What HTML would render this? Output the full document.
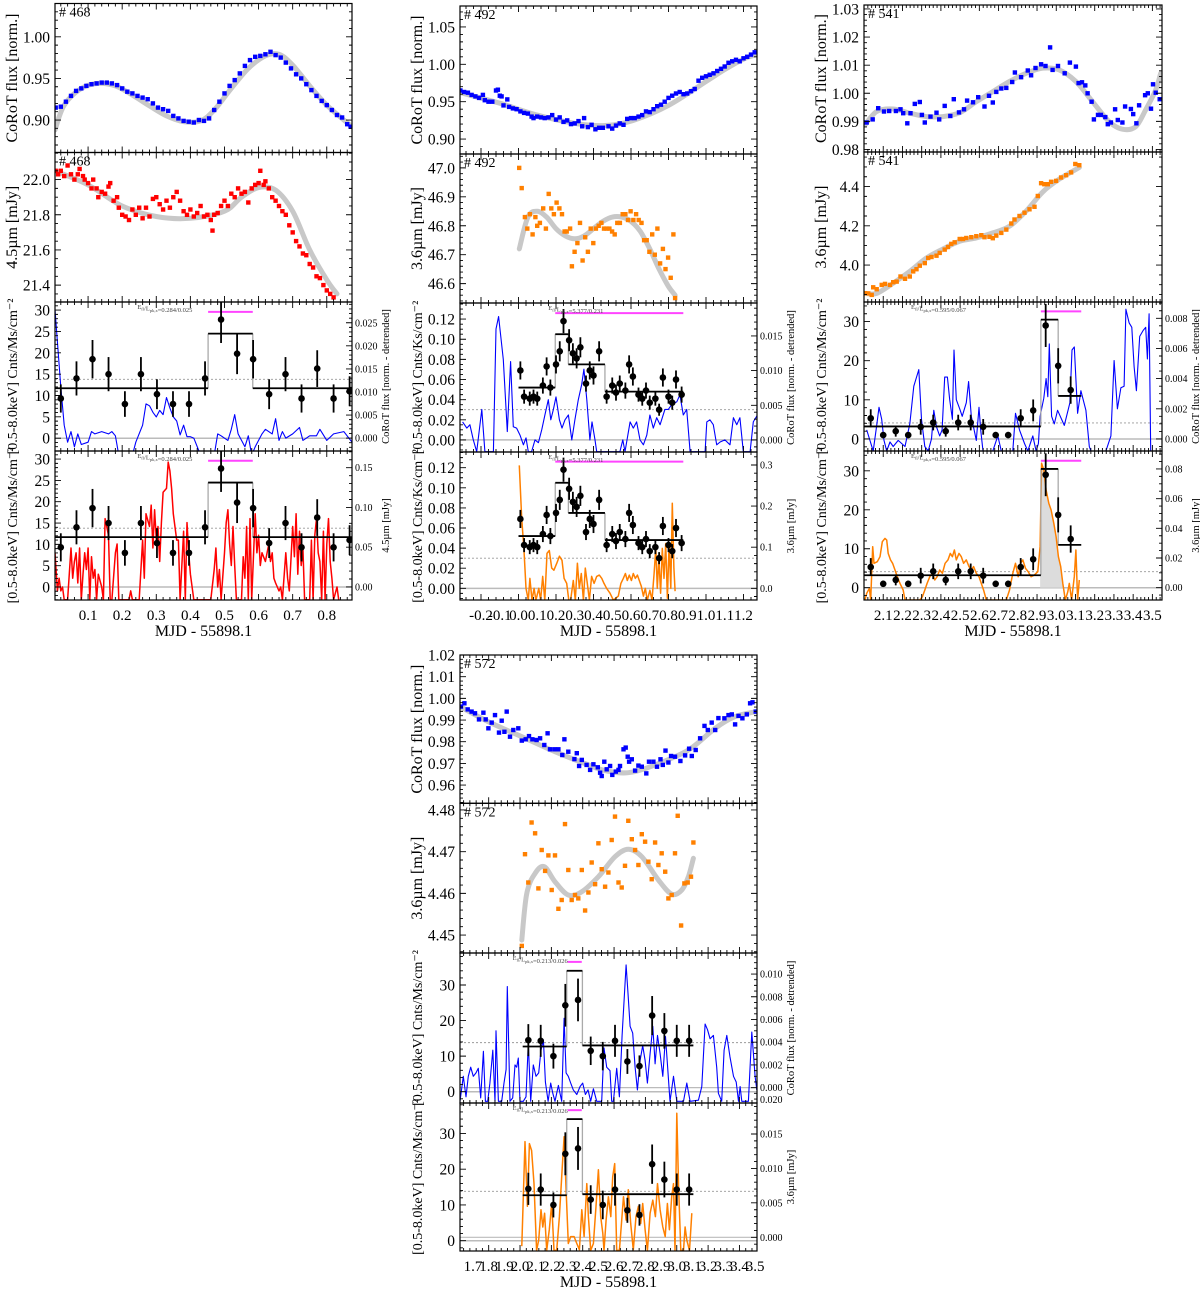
<!DOCTYPE html>
<html><head><meta charset="utf-8"><title>Light curves</title>
<style>
html,body{margin:0;padding:0;background:#fff;}
svg{display:block;font-family:"Liberation Serif","DejaVu Serif",serif;}
</style></head>
<body>
<svg id="fig" width="1200" height="1292" viewBox="0 0 1200 1292" xmlns="http://www.w3.org/2000/svg"></svg>
<script>
// ===== Group 1 (#468) =====
const g1CorotX=[0.005,0.02,0.035,0.05,0.065,0.08,0.095,0.11,0.125,0.14,0.155,0.17,0.185,0.2,0.215,0.23,0.245,0.26,0.275,0.29,0.305,0.32,0.335,0.35,0.365,0.38,0.395,0.41,0.425,0.44,0.455,0.47,0.485,0.5,0.515,0.53,0.545,0.56,0.575,0.59,0.605,0.62,0.635,0.65,0.665,0.68,0.695,0.71,0.725,0.74,0.755,0.77,0.785,0.8,0.815,0.83,0.845,0.86,0.87];
const g1CorotY=[.915,.916,.922,.929,.935,.938,.941,.943,.944,.945,.945,.944,.942,.938,.934,.932,.929,.927,.925,.920,.915,.913,.911,.905,.902,.899,.898,.897,.900,.899,.902,.912,.922,.932,.941,.948,.956,.965,.972,.976,.977,.979,.982,.978,.975,.969,.962,.955,.950,.943,.936,.929,.923,.918,.912,.906,.903,.895,.892];
const g1CorotFitX=[0.003,0.03,0.08,0.13,0.18,0.23,0.28,0.33,0.38,0.43,0.47,0.52,0.57,0.62,0.66,0.7,0.75,0.8,0.85,0.874];
const g1CorotFitY=[0.888,0.918,0.938,0.944,0.941,0.930,0.917,0.905,0.898,0.899,0.912,0.938,0.962,0.977,0.979,0.966,0.941,0.918,0.900,0.892];
const g1IrX=[.005,.012,.02,.03,.04,.05,.06,.07,.075,.085,.09,.1,.11,.115,.125,.13,.14,.15,.16,.165,.175,.185,.19,.2,.21,.22,.23,.24,.25,.26,.27,.28,.29,.3,.31,.32,.33,.34,.35,.36,.37,.38,.39,.4,.41,.42,.43,.44,.45,.46,.465,.47,.48,.49,.5,.51,.52,.53,.54,.55,.56,.57,.58,.59,.6,.605,.615,.62,.63,.64,.65,.66,.67,.68,.69,.7,.71,.72,.73,.74,.75,.76,.77,.78,.79,.8,.81,.82];
const g1IrY=[22.05,22.03,22.05,22.02,22.08,22.03,22.0,22.03,22.06,22.02,22.0,21.98,21.95,22.0,21.95,21.90,21.93,21.92,21.96,21.98,21.88,21.9,21.84,21.80,21.79,21.77,21.83,21.80,21.84,21.78,21.84,21.79,21.89,21.90,21.86,21.83,21.88,21.84,21.90,21.93,21.88,21.82,21.80,21.83,21.79,21.81,21.85,21.79,21.80,21.77,21.71,21.80,21.81,21.85,21.88,21.85,21.92,21.90,21.95,21.92,21.93,21.87,21.95,21.97,21.98,22.05,21.97,21.99,21.95,21.90,21.88,21.85,21.82,21.80,21.74,21.70,21.65,21.62,21.58,21.57,21.52,21.50,21.45,21.44,21.40,21.37,21.35,21.33];
const g1IrFitX=[0.003,0.1,0.2,0.3,0.4,0.5,0.55,0.6,0.65,0.7,0.75,0.8,0.83];
const g1IrFitY=[22.05,21.97,21.85,21.79,21.78,21.82,21.90,21.955,21.94,21.82,21.6,21.43,21.35];
const g1XrayX=[0.02,0.066,0.113,0.16,0.208,0.255,0.302,0.349,0.396,0.443,0.49,0.537,0.584,0.631,0.679,0.726,0.772,0.82,0.867];
const g1XrayY=[9.3,14,18.5,15,8,15,10.3,8,8,14,27.8,19.8,18.5,10.3,15,9.3,16.3,9.3,11];
const g1XrayErr=[3.3,4,4.5,4,3,4,3.5,3,3,4,5.5,4.8,4.5,3.5,4,3.3,4.3,3.3,3.5];
const g1BinStart=[0.003,0.452,0.583];
const g1BinEnd=[0.452,0.583,0.874];
const g1BinLevel=[11.7,24.5,11.7];
const g1DetX=[0.003,.02,.03,.04,.05,.06,.07,.08,.1,.11,.12,.14,.16,.17,.18,.19,.23,.24,.26,.27,.28,.29,.3,.31,.32,.33,.34,.35,.36,.37,.38,.39,.4,.41,.43,.47,.48,.49,.51,.52,.53,.54,.56,.57,.58,.59,.61,.62,.64,.65,.66,.67,.68,.7,.72,.73,.75,.77,.78,.8,.82,.85,.874];
const g1DetY=[0.0278,0.0111,0.0028,-0.0009,0.0014,-0.0019,0.0009,-0.0014,-0.0009,0.0014,0.0009,0.0014,0.0009,0.0014,0.0005,-0.0037,-0.0037,-0.0009,0.0028,0.0074,0.0070,0.0056,0.0046,0.0060,0.0051,0.0088,0.0065,0.0046,0.0037,0.0007,0.0028,0.0003,0.0003,0,-0.0037,-0.0037,0.0009,0.0005,-0.0005,0.0019,0.0051,0.0009,-0.0019,0.0005,-0.0037,-0.0019,0.0009,0.0019,0.0009,0.0042,-0.0005,0.0014,0,0.0009,0.0023,-0.0005,0.0005,0.0005,0.0019,-0.0005,0.0009,0.0014,-0.0009];
const g1ResX=[0.003,.01,.015,.02,.025,.03,.04,.05,.055,.06,.065,.07,.075,.08,.085,.09,.095,.1,.105,.11,.115,.12,.125,.13,.14,.145,.15,.16,.165,.17,.18,.185,.19,.2,.22,.225,.23,.25,.26,.265,.27,.28,.285,.29,.295,.3,.305,.31,.315,.32,.33,.335,.34,.345,.35,.36,.365,.37,.38,.385,.39,.395,.4,.41,.45,.46,.47,.475,.48,.485,.49,.5,.505,.51,.515,.52,.525,.53,.535,.55,.555,.56,.565,.57,.575,.58,.59,.595,.6,.605,.61,.62,.63,.635,.64,.645,.65,.66,.665,.67,.68,.685,.69,.7,.705,.71,.715,.72,.725,.73,.735,.75,.755,.76,.765,.77,.775,.78,.785,.79,.795,.8,.805,.81,.815,.82,.83,.835];
const g1ResY=[0.043,-0.005,0.011,-0.005,0,-0.016,-0.016,0.049,0.011,0.032,0.043,0.005,0.049,-0.016,0.016,0.043,0.022,0.049,-0.016,0.038,0.011,0.022,-0.016,0.016,0,-0.016,0.086,0.065,-0.016,-0.016,0.043,0.054,-0.016,-0.016,-0.016,-0.005,-0.016,-0.016,0.059,0.011,0.092,0.076,0.103,0.049,0.097,0.059,0.076,0.032,0.081,0.119,0.124,0.157,0.146,0.124,0.092,0.059,0.059,-0.016,0.070,-0.016,0.081,0.043,0.016,-0.016,-0.016,-0.016,0.022,0.049,0,0.022,-0.016,0.043,0.081,0.097,0.054,0.027,0.076,0.027,-0.016,-0.016,0.038,0.011,0.076,-0.016,0.086,-0.016,0.092,0.043,0.065,0.027,0.043,0.032,0.054,0.032,0.043,0.011,0.005,-0.005,0,-0.016,0.043,0.011,-0.005,0.076,0.038,0.092,0.016,0.070,0.027,0.049,-0.016,-0.016,0.059,-0.016,0.065,0.086,0.043,0.032,-0.016,0.070,-0.016,0.054,0.086,0.032,0.011,-0.016,0,-0.016];
// ===== Group 2 (#492) =====
const g2CorotX=[-0.31,-0.29,-0.27,-0.25,-0.23,-0.21,-0.19,-0.18,-0.16,-0.14,-0.12,-0.11,-0.10,-0.09,-0.08,-0.06,-0.05,-0.03,-0.01,0.01,0.03,0.05,0.07,0.08,0.1,0.12,0.14,0.16,0.18,0.2,0.22,0.24,0.26,0.28,0.3,0.32,0.34,0.35,0.37,0.39,0.41,0.43,0.45,0.48,0.5,0.52,0.54,0.56,0.58,0.6,0.62,0.64,0.66,0.68,0.7,0.72,0.74,0.76,0.78,0.8,0.82,0.84,0.86,0.88,0.9,0.92,0.94,0.96,0.98,1.0,1.02,1.04,1.06,1.08,1.1,1.12,1.14,1.16,1.18,1.2,1.22,1.24,1.26];
const g2CorotY=[0.965,0.963,0.962,0.959,0.957,0.955,0.959,0.952,0.950,0.950,0.965,0.966,0.958,0.957,0.945,0.953,0.943,0.941,0.940,0.937,0.935,0.934,0.930,0.928,0.930,0.929,0.928,0.929,0.932,0.926,0.929,0.923,0.925,0.920,0.921,0.924,0.917,0.928,0.916,0.919,0.913,0.915,0.915,0.917,0.914,0.918,0.921,0.919,0.927,0.928,0.928,0.930,0.932,0.937,0.936,0.940,0.944,0.946,0.950,0.955,0.958,0.961,0.963,0.960,0.961,0.964,0.967,0.978,0.982,0.984,0.986,0.988,0.991,0.994,0.997,1.002,1.004,1.006,1.004,1.008,1.010,1.013,1.016];
const g2CorotFitX=[-0.31,-0.1,0.1,0.3,0.45,0.6,0.8,1.0,1.1,1.2,1.27];
const g2CorotFitY=[0.962,0.948,0.932,0.921,0.918,0.924,0.945,0.977,0.993,1.007,1.013];
const g2IrX=[0.004,0.017,0.034,0.047,0.061,0.075,0.090,0.100,0.114,0.132,0.146,0.161,0.175,0.189,0.203,0.218,0.232,0.246,0.257,0.275,0.285,0.299,0.314,0.328,0.342,0.356,0.370,0.385,0.399,0.413,0.428,0.442,0.456,0.470,0.485,0.499,0.513,0.527,0.541,0.556,0.570,0.584,0.598,0.613,0.627,0.641,0.656,0.670,0.684,0.698,0.713,0.727,0.741,0.755,0.770,0.784,0.798,0.812,0.826,0.835];
const g2IrY=[47.00,46.93,46.83,46.79,46.84,46.77,46.83,46.80,46.81,46.86,46.79,46.91,46.86,46.84,46.88,46.86,46.84,46.78,46.78,46.79,46.66,46.71,46.74,46.81,46.68,46.76,46.71,46.79,46.74,46.79,46.80,46.81,46.79,46.79,46.79,46.78,46.77,46.81,46.81,46.84,46.84,46.82,46.85,46.82,46.84,46.82,46.81,46.75,46.75,46.71,46.77,46.70,46.79,46.67,46.72,46.65,46.69,46.62,46.77,46.55];
const g2IrFitX=[0.004,0.05,0.1,0.15,0.2,0.25,0.3,0.35,0.4,0.45,0.5,0.55,0.6,0.65,0.7,0.75,0.8,0.835];
const g2IrFitY=[46.72,46.83,46.85,46.83,46.79,46.765,46.755,46.765,46.79,46.815,46.83,46.83,46.815,46.78,46.72,46.65,46.59,46.56];
const g2XrayX=[0.01,0.03,0.06,0.08,0.10,0.13,0.15,0.17,0.20,0.22,0.24,0.27,0.29,0.31,0.33,0.36,0.38,0.40,0.43,0.47,0.50,0.52,0.54,0.57,0.59,0.61,0.64,0.66,0.68,0.70,0.73,0.75,0.77,0.80,0.82,0.84,0.87];
const g2XrayY=[0.069,0.043,0.041,0.043,0.041,0.054,0.073,0.052,0.075,0.088,0.118,0.099,0.086,0.081,0.092,0.056,0.069,0.064,0.088,0.043,0.054,0.047,0.056,0.049,0.075,0.063,0.045,0.041,0.049,0.037,0.041,0.030,0.062,0.043,0.037,0.060,0.045];
const g2XrayErr=[0.009,0.007,0.007,0.007,0.007,0.008,0.009,0.008,0.009,0.010,0.012,0.011,0.010,0.010,0.010,0.008,0.009,0.009,0.010,0.007,0.008,0.008,0.008,0.008,0.009,0.009,0.007,0.007,0.008,0.007,0.007,0.006,0.009,0.007,0.007,0.009,0.008];
const g2BinStart=[0.0,0.196,0.266,0.461];
const g2BinEnd=[0.196,0.266,0.461,0.879];
const g2BinLevel=[0.052,0.105,0.075,0.048];
const g2DetX=[-0.298,-0.276,-0.259,-0.241,-0.223,-0.196,-0.179,-0.134,-0.120,-0.106,-0.081,-0.060,-0.042,-0.028,-0.010,0.008,0.026,0.040,0.052,0.070,0.088,0.106,0.124,0.141,0.159,0.172,0.186,0.200,0.218,0.232,0.248,0.266,0.284,0.301,0.319,0.337,0.349,0.364,0.381,0.392,0.408,0.417,0.541,0.556,0.568,0.595,0.612,0.630,0.648,0.666,0.684,0.701,0.719,0.737,0.755,0.781,0.799,0.817,0.844,0.861,0.879,0.897,0.915,0.995,1.004,1.021,1.039,1.057,1.075,1.101,1.128,1.146,1.164,1.181,1.199,1.235,1.252,1.274];
const g2DetY=[0.0026,0.0017,0.0022,0,-0.0017,0.0044,-0.0017,-0.0017,0.016,0.0178,0.0116,0.0012,0.0113,0.0019,0.0017,0.0007,-0.0007,0.0003,-0.0017,-0.0017,0,-0.0004,0.0015,0.0036,0.0058,0.0029,0.0044,0.0062,0.0029,0.0017,0.0029,0.0036,0,0.0029,0.0058,0.008,0.0102,0.0058,0,0.0026,0,-0.0017,-0.0017,0,-0.0017,0.0026,0.0017,0.0026,0,-0.0007,0.0007,0.0036,0.0017,0.0032,0.0022,0.0044,0.0044,0.0051,0.0055,0.0065,0.0036,0.0044,-0.0017,-0.0017,0.0026,0.0029,0.0022,-0.0007,-0.0003,0,-0.0007,0.0032,0.0022,0.0032,-0.0017,-0.0017,0.0026,0.0036];
const g2ResX=[0.004,0.017,0.029,0.040,0.052,0.061,0.072,0.083,0.093,0.108,0.118,0.129,0.140,0.152,0.164,0.177,0.189,0.204,0.218,0.232,0.243,0.257,0.268,0.278,0.292,0.303,0.314,0.324,0.335,0.346,0.356,0.367,0.378,0.390,0.403,0.417,0.431,0.444,0.456,0.470,0.488,0.506,0.532,0.546,0.559,0.570,0.580,0.591,0.602,0.612,0.623,0.634,0.644,0.655,0.666,0.676,0.687,0.701,0.712,0.723,0.732,0.740,0.749,0.758,0.767,0.776,0.785,0.794,0.803,0.812,0.820,0.829,0.835];
const g2ResY=[0.299,0.17,0.097,0,-0.029,0.024,-0.029,0,-0.029,0,-0.029,0.029,-0.029,0.085,0.092,0.049,0.044,0.061,0.078,0.068,0.024,0.012,-0.029,-0.029,0.019,-0.029,0.061,0,0.036,-0.029,0.049,0.012,-0.029,0.029,0.012,0.029,0.032,0.024,0.012,0,-0.012,-0.029,-0.019,0.012,0.024,0.036,0.019,0.032,0.019,0.036,0.024,0.032,0.019,0.005,-0.019,0,-0.029,-0.005,-0.029,0.036,0.097,0,0.073,-0.012,0.097,0.024,0.109,-0.024,0.109,0,0.207,0.049,-0.007];
// ===== Group 3 (#541) =====
const g3CorotX=[2.014,2.045,2.074,2.104,2.131,2.166,2.190,2.204,2.225,2.242,2.264,2.290,2.301,2.316,2.346,2.377,2.391,2.420,2.449,2.467,2.494,2.520,2.536,2.567,2.594,2.627,2.650,2.670,2.688,2.714,2.740,2.771,2.785,2.817,2.852,2.869,2.892,2.921,2.944,2.968,2.981,3.009,3.044,3.071,3.102,3.116,3.134,3.151,3.163,3.184,3.196,3.217,3.232,3.255,3.268,3.284,3.306,3.320,3.344,3.358,3.388,3.400,3.417,3.431,3.462,3.476,3.493,3.503,3.517,3.538];
const g3CorotY=[0.9896,0.9907,0.9947,0.9935,0.9937,0.9937,0.9943,0.9929,0.9893,0.9929,0.9962,0.9969,0.9923,0.9896,0.9917,0.9931,0.9907,0.9955,0.9919,0.9979,0.9932,0.9943,0.9974,0.9968,0.9986,0.9953,0.9991,0.9967,1.0005,1.0017,1.0019,1.0040,1.0074,1.0057,1.0081,1.0064,1.0090,1.0103,1.0097,1.0163,1.0083,1.0097,1.0071,1.0109,1.0095,1.0036,1.0039,1.0028,1.0000,0.9970,0.9907,0.9923,0.9923,0.9915,0.9890,0.9896,0.9943,0.9905,0.9896,0.9953,0.9944,0.9926,0.9893,0.9957,0.9993,1.0000,0.9945,1.0032,1.0002,0.9979];
const g3CorotFitX=[2.005,2.066,2.152,2.238,2.325,2.411,2.498,2.584,2.670,2.757,2.843,2.930,3.016,3.102,3.189,3.275,3.344,3.413,3.465,3.517,3.543];
const g3CorotFitY=[0.9887,0.9935,0.9944,0.9929,0.9917,0.9917,0.9931,0.9970,1.0006,1.0042,1.0071,1.0089,1.0083,1.0042,0.9970,0.9899,0.9872,0.9881,0.9941,1.0012,1.0071];
const g3IrX=[2.005,2.022,2.040,2.048,2.066,2.092,2.109,2.135,2.152,2.170,2.190,2.213,2.238,2.256,2.273,2.290,2.316,2.334,2.351,2.377,2.394,2.420,2.437,2.454,2.472,2.498,2.515,2.532,2.558,2.584,2.610,2.627,2.653,2.670,2.688,2.714,2.740,2.766,2.783,2.809,2.835,2.861,2.887,2.904,2.921,2.938,2.956,2.973,2.999,3.025,3.051,3.077,3.099,3.120];
const g3IrY=[3.857,3.856,3.848,3.887,3.877,3.899,3.904,3.899,3.913,3.916,3.942,3.930,3.942,3.968,3.979,3.997,4.010,4.036,4.041,4.048,4.062,4.079,4.092,4.108,4.116,4.133,4.133,4.138,4.142,4.147,4.152,4.142,4.144,4.137,4.150,4.164,4.181,4.212,4.232,4.250,4.267,4.284,4.297,4.352,4.417,4.412,4.412,4.424,4.429,4.446,4.458,4.472,4.515,4.509];
const g3IrFitX=[2.005,2.066,2.152,2.238,2.325,2.411,2.498,2.584,2.670,2.757,2.843,2.930,3.016,3.120];
const g3IrFitY=[3.856,3.856,3.908,3.968,4.036,4.082,4.121,4.138,4.164,4.198,4.275,4.373,4.438,4.497];
const g3XrayX=[2.035,2.1,2.165,2.23,2.295,2.36,2.425,2.49,2.555,2.62,2.685,2.75,2.815,2.88,2.945,3.01,3.075];
const g3XrayY=[5.3,1,2,1,3.1,4.2,2,4.2,4.2,3.1,1,1,5.3,7.3,29,18.7,12.5];
const g3XrayErr=[2.3,0.8,1.4,0.8,2,2,1.4,2,2,2,0.8,0.8,2.3,2.8,5.5,4.5,3.5];
const g3BinStart=[2.0,2.92,3.01];
const g3BinEnd=[2.92,3.01,3.13];
const g3BinLevel=[3.2,30.5,11];
const g3DetX=[2.014,2.048,2.066,2.078,2.092,2.104,2.118,2.135,2.152,2.178,2.213,2.238,2.259,2.285,2.299,2.316,2.334,2.351,2.363,2.377,2.394,2.406,2.420,2.434,2.446,2.460,2.468,2.480,2.498,2.511,2.532,2.544,2.558,2.584,2.598,2.607,2.619,2.670,2.696,2.714,2.774,2.788,2.809,2.835,2.852,2.878,2.895,2.907,2.916,2.935,2.947,2.956,2.964,2.976,2.990,3.007,3.042,3.071,3.082,3.094,3.111,3.128,3.140,3.154,3.172,3.180,3.258,3.284,3.301,3.318,3.336,3.353,3.362,3.379,3.393,3.405,3.417,3.434,3.452,3.465,3.474,3.483,3.491];
const g3DetY=[0.0006,-0.0008,0.0009,0.0021,0.0013,-0.0001,-0.0008,-0.0002,-0.0005,-0.0001,-0.0005,0.0010,0.0035,0.0046,0.0013,-0.0005,-0.0008,0.0000,0.0019,0.0008,0.0002,0.0006,0.0041,0.0041,0.0026,0.0013,0.0059,0.0026,0.0020,0.0015,0.0024,0.0038,0.0015,-0.0001,0.0021,0.0006,-0.0008,-0.0008,0.0002,-0.0008,-0.0008,0.0017,0.0006,-0.0003,-0.0008,0.0002,-0.0008,-0.0003,0.0015,0.0027,0.0040,0.0028,0.0063,0.0015,0.0010,0.0019,0.0009,0.0024,0.0059,0.0061,0.0017,0.0032,0.0026,0.0019,-0.0005,-0.0008,-0.0008,0.0002,0.0052,0.0020,0.0034,0.0035,0.0086,0.0077,0.0074,0.0048,0.0032,0.0068,0.0072,0.0074,0.0053,0.0083,-0.0008];
const g3ResX=[2.005,2.014,2.028,2.035,2.045,2.052,2.069,2.083,2.095,2.109,2.118,2.126,2.138,2.149,2.161,2.173,2.187,2.204,2.213,2.290,2.304,2.316,2.328,2.342,2.356,2.368,2.380,2.394,2.408,2.422,2.437,2.449,2.460,2.470,2.480,2.494,2.506,2.518,2.532,2.546,2.558,2.570,2.584,2.598,2.610,2.622,2.636,2.740,2.757,2.774,2.788,2.802,2.814,2.826,2.840,2.854,2.869,2.886,2.904,2.916,2.924,2.935,2.947,2.961,2.973,2.987,2.999,3.011,3.023,3.034,3.047,3.060,3.068,3.080,3.094,3.102,3.111,3.120];
const g3ResY=[-0.0083,-0.0038,-0.0004,-0.0083,0.0276,0.0164,0.0175,0.0209,0.0310,0.0332,0.0321,0.0231,0.0187,0.0164,0.0119,0.0074,0.0029,-0.0016,-0.0083,-0.0083,-0.0061,-0.0016,0.0029,0.0074,0.0097,0.0052,0.0074,0.0119,0.0097,0.0164,0.0187,0.0231,0.0209,0.0254,0.0187,0.0231,0.0209,0.0164,0.0187,0.0142,0.0119,0.0142,0.0097,0.0074,0.0029,-0.0016,-0.0083,-0.0083,-0.0016,0.0097,0.0164,0.0074,0.0164,0.0187,0.0130,0.0108,0.0074,0.0085,0.0108,0.0276,0.0838,0.0793,0.0658,0.0569,0.0524,0.0434,0.0344,0.0209,0.0142,0.0029,-0.0083,-0.0027,0.0029,-0.0083,0.0074,0.0254,-0.0083,0.0052];
// ===== Group 4 (#572) =====
const g4CorotX=[1.623,1.645,1.666,1.691,1.713,1.738,1.766,1.781,1.798,1.819,1.840,1.866,1.883,1.900,1.915,1.936,1.957,1.989,2.011,2.036,2.057,2.079,2.106,2.128,2.155,2.176,2.191,2.219,2.245,2.270,2.283,2.308,2.347,2.362,2.377,2.394,2.425,2.447,2.468,2.496,2.511,2.521,2.538,2.553,2.575,2.589,2.611,2.628,2.638,2.660,2.674,2.687,2.696,2.713,2.734,2.755,2.777,2.806,2.823,2.851,2.874,2.896,2.911,2.928,2.947,2.964,2.989,3.023,3.053,3.079,3.096,3.121,3.149,3.177,3.198,3.223,3.245,3.266,3.304,3.330,3.351,3.372,3.394,3.419,3.447,3.468,3.483,3.504];
const g4CorotY=[0.9962,0.9977,0.9949,0.9939,0.9931,0.9903,0.9934,0.9903,0.9862,0.9888,0.9923,0.9842,0.9897,0.9846,0.9939,0.9823,0.9854,0.9862,0.9805,0.9811,0.9826,0.9811,0.9808,0.9816,0.9785,0.9839,0.9765,0.9765,0.9765,0.9739,0.9811,0.9754,0.9720,0.9747,0.9688,0.9716,0.9693,0.9670,0.9696,0.9682,0.9657,0.9642,0.9708,0.9673,0.9688,0.9647,0.9662,0.9670,0.9688,0.9765,0.9773,0.9731,0.9708,0.9719,0.9667,0.9690,0.9685,0.9654,0.9708,0.9708,0.9685,0.9719,0.9693,0.9759,0.9704,0.9734,0.9731,0.9711,0.9737,0.9768,0.9734,0.9762,0.9816,0.9873,0.9854,0.9888,0.9854,0.9909,0.9908,0.9923,0.9926,0.9880,0.9919,0.9908,0.9926,0.9977,0.9982,0.9939];
const g4CorotFitX=[1.617,1.798,2.011,2.223,2.436,2.543,2.691,2.862,3.074,3.245,3.372,3.511];
const g4CorotFitY=[0.9962,0.9892,0.9823,0.9754,0.9693,0.9667,0.9657,0.9693,0.9762,0.9862,0.9916,0.9939];
const g4IrX=[2.011,2.032,2.053,2.074,2.096,2.117,2.138,2.160,2.181,2.202,2.223,2.245,2.266,2.287,2.308,2.330,2.351,2.372,2.394,2.415,2.436,2.457,2.479,2.500,2.521,2.543,2.564,2.585,2.606,2.628,2.649,2.670,2.691,2.713,2.734,2.755,2.777,2.798,2.819,2.840,2.862,2.883,2.904,2.926,2.947,2.968,2.989,3.006,3.028,3.049,3.070,3.091,3.106];
const g4IrY=[4.4474,4.4694,4.4626,4.4770,4.4744,4.4612,4.4704,4.4654,4.4691,4.4608,4.4691,4.4563,4.4584,4.4766,4.4656,4.4584,4.4596,4.4588,4.4656,4.4559,4.4602,4.4674,4.4622,4.4720,4.4658,4.4616,4.4650,4.4728,4.4784,4.4626,4.4614,4.4666,4.4774,4.4730,4.4704,4.4668,4.4742,4.4724,4.4676,4.4634,4.4722,4.4668,4.4696,4.4652,4.4588,4.4596,4.4696,4.4786,4.4523,4.4624,4.4626,4.4640,4.4722];
const g4IrFitX=[2.011,2.043,2.096,2.155,2.223,2.308,2.394,2.5,2.606,2.691,2.777,2.883,2.968,3.032,3.074,3.106];
const g4IrFitY=[4.4488,4.46,4.4648,4.4664,4.4628,4.4596,4.4604,4.464,4.4688,4.4706,4.4688,4.4632,4.4598,4.4608,4.464,4.4684];
const g4XrayX=[2.053,2.132,2.213,2.289,2.370,2.451,2.528,2.606,2.685,2.762,2.843,2.921,3.0,3.079];
const g4XrayY=[14.5,14.3,10,24.3,25.8,11.5,10,14.3,8.5,7.2,21.4,17.1,14.3,14.3];
const g4XrayErr=[4.5,4.5,3.5,6,6,4,4,4.5,3.5,3,5.5,5,4.5,4.5];
const g4BinStart=[2.017,2.298,2.398];
const g4BinEnd=[2.298,2.398,3.106];
const g4BinLevel=[12.7,34,13];
const g4DetX=[1.617,1.638,1.655,1.670,1.685,1.702,1.719,1.734,1.749,1.766,1.779,1.794,1.808,1.826,1.840,1.847,1.862,1.883,1.898,1.911,1.919,1.936,1.953,1.968,1.979,1.989,2.000,2.021,2.038,2.053,2.068,2.085,2.102,2.119,2.134,2.149,2.162,2.179,2.196,2.209,2.223,2.245,2.255,2.266,2.281,2.294,2.308,2.323,2.340,2.362,2.383,2.400,2.417,2.434,2.451,2.468,2.489,2.521,2.536,2.553,2.574,2.585,2.596,2.617,2.634,2.651,2.664,2.677,2.689,2.702,2.719,2.734,2.749,2.766,2.783,2.798,2.813,2.830,2.847,2.862,2.877,2.894,2.911,2.928,2.940,2.957,2.979,3.000,3.043,3.064,3.085,3.138,3.160,3.181,3.196,3.213,3.234,3.255,3.266,3.287,3.302,3.319,3.340,3.362,3.379,3.394,3.404,3.415,3.457,3.479,3.500,3.511];
const g4DetY=[-0.0012,0.0010,-0.0008,0.0010,0.0018,0.0010,0.0013,0.0017,-0.0009,0.0032,-0.0012,-0.0012,0.0004,0.0033,-0.0012,0.0050,-0.0012,-0.0012,0.0004,0.0016,0.0089,-0.0012,-0.0009,0.0020,0.0018,0.0026,-0.0012,-0.0012,-0.0008,0.0039,-0.0012,0.0020,0.0010,0.0013,0.0033,0.0042,0.0005,-0.0012,0.0004,-0.0005,-0.0012,0.0002,-0.0005,-0.0012,0.0061,0.0013,0.0010,0.0004,-0.0002,-0.0006,0.0001,0.0004,-0.0006,-0.0002,-0.0012,-0.0001,-0.0012,-0.0012,0.0035,0.0018,0.0015,-0.0012,-0.0012,0.0017,-0.0008,0.0046,0.0077,0.0108,0.0083,0.0054,0.0048,0.0018,-0.0002,0.0024,0.0037,0.0024,0.0004,0.0030,0.0054,0.0021,0.0046,0.0030,0.0010,0.0045,0.0021,-0.0012,0.0010,-0.0012,-0.0012,0.0004,-0.0012,-0.0011,0.0001,0.0056,0.0051,0.0043,0.0046,0.0018,-0.0005,-0.0012,0.0033,0.0046,0.0027,0.0010,0.0005,-0.0012,0.0001,-0.0012,-0.0012,0.0049,0.0010,-0.0002];
const g4ResX=[2.011,2.032,2.047,2.060,2.074,2.089,2.106,2.119,2.134,2.145,2.157,2.170,2.187,2.202,2.217,2.234,2.251,2.266,2.281,2.294,2.308,2.323,2.345,2.362,2.379,2.394,2.409,2.426,2.436,2.451,2.468,2.485,2.500,2.515,2.528,2.536,2.549,2.564,2.579,2.591,2.604,2.617,2.634,2.660,2.677,2.691,2.706,2.723,2.740,2.755,2.770,2.783,2.798,2.813,2.830,2.847,2.864,2.877,2.894,2.911,2.926,2.940,2.953,2.968,2.979,2.989,3.000,3.011,3.026,3.043,3.053,3.064,3.081,3.096];
const g4ResY=[-0.0013,0.0139,0.0045,0.0136,0.0126,0.0078,-0.0019,-0.0004,0.0040,0.0015,0.0035,-0.0019,0.0011,0.0049,-0.0019,-0.0019,0.0030,0.0088,0.0146,0.0069,-0.0009,0.0001,0.0001,-0.0009,-0.0018,0.0040,0.0001,0.0078,0.0030,-0.0019,-0.0009,0.0045,0.0098,0.0030,0.0006,-0.0019,0.0025,0.0059,0.0030,0.0088,0.0107,-0.0019,-0.0019,0.0059,0.0025,0.0069,0.0020,-0.0018,0.0030,0.0045,0.0020,0.0049,0.0011,-0.0019,0.0035,0.0054,0.0030,0.0078,0.0040,0.0015,0.0001,0.0049,0.0011,0.0059,0.0078,-0.0019,0.0180,0.0078,-0.0019,-0.0019,0.0015,-0.0004,-0.0019,0.0035];
// tick label arrays
const g1XLabels=[0.1,0.2,0.3,0.4,0.5,0.6,0.7,0.8];
const g2XLabels=[-0.2,-0.1,0.0,0.1,0.2,0.3,0.4,0.5,0.6,0.7,0.8,0.9,1.0,1.1,1.2];
const g3XLabels=[2.1,2.2,2.3,2.4,2.5,2.6,2.7,2.8,2.9,3.0,3.1,3.2,3.3,3.4,3.5];
const g4XLabels=[1.7,1.8,1.9,2.0,2.1,2.2,2.3,2.4,2.5,2.6,2.7,2.8,2.9,3.0,3.1,3.2,3.3,3.4,3.5];

const NS='http://www.w3.org/2000/svg';
const svg=document.getElementById('fig');
function mk(parent,tag,attrs,name){
  const e=document.createElementNS(NS,tag);
  for(const k in attrs) e.setAttribute(k,attrs[k]);
  
  
  parent.appendChild(e);return e;
}
function txt(parent,x,y,s,size,name,extra){
  const t=mk(parent,'text',Object.assign({x:x,y:y,'font-size':size,fill:'#000'},extra||{}),name);
  t.textContent=s;return t;
}
let clipId=0;
function smoothPath(pts){
  if(pts.length<2)return '';
  let d='M'+pts[0][0].toFixed(1)+','+pts[0][1].toFixed(1);
  for(let i=0;i<pts.length-1;i++){
    const p0=pts[Math.max(0,i-1)],p1=pts[i],p2=pts[i+1],p3=pts[Math.min(pts.length-1,i+2)];
    const c1=[p1[0]+(p2[0]-p0[0])/6,p1[1]+(p2[1]-p0[1])/6];
    const c2=[p2[0]-(p3[0]-p1[0])/6,p2[1]-(p3[1]-p1[1])/6];
    d+='C'+c1[0].toFixed(1)+','+c1[1].toFixed(1)+' '+c2[0].toFixed(1)+','+c2[1].toFixed(1)+' '+p2[0].toFixed(1)+','+p2[1].toFixed(1);
  }
  return d;
}
function fmt(v,d){return v.toFixed(d);}

function makePanel(o){
  const g=mk(svg,'g',{},o.name);
  const sx=v=>o.x0+(v-o.xd[0])/(o.xd[1]-o.xd[0])*(o.x1-o.x0);
  const sy=v=>o.bottom-(v-o.yd[0])/(o.yd[1]-o.yd[0])*(o.bottom-o.top);
  const sr=o.rd?(v=>o.bottom-(v-o.rd[0])/(o.rd[1]-o.rd[0])*(o.bottom-o.top)):null;
  const id='c'+(clipId++);
  const cp=mk(g,'clipPath',{id:id},'panel-clip');
  mk(cp,'rect',{x:o.x0,y:o.top,width:o.x1-o.x0,height:o.bottom-o.top},'clip-rect');
  const plot=mk(g,'g',{'clip-path':'url(#'+id+')'},'plot-area');
  return {g,plot,sx,sy,sr,o};
}
function frame(P,xMajor,xMinor,yTicks,yMinor,yDig,rTicks,rMinor,rDig){
  const o=P.o,g=P.g;
  mk(g,'rect',{x:o.x0,y:o.top,width:o.x1-o.x0,height:o.bottom-o.top,fill:'none',stroke:'#000','stroke-width':1.2},'panel-frame');
  let d='';
  for(let v=Math.ceil(o.xd[0]/xMinor-1e-6)*xMinor;v<=o.xd[1]+1e-9;v+=xMinor){
    const X=P.sx(v);const maj=Math.abs(v/xMajor-Math.round(v/xMajor))<1e-3;const L=maj?6:3;
    d+='M'+X+','+o.bottom+'v-'+L+'M'+X+','+o.top+'v'+L;
  }
  for(let v=Math.ceil(o.yd[0]/yMinor-1e-6)*yMinor;v<=o.yd[1]+1e-9;v+=yMinor){
    const Y=P.sy(v);const maj=yTicks.some(t=>Math.abs(t-v)<yMinor*0.01);const L=maj?6:3;
    d+='M'+o.x0+','+Y+'h'+L;
    if(!rTicks) d+='M'+o.x1+','+Y+'h-'+L;
  }
  if(rTicks){
    for(let v=Math.ceil(o.rd[0]/rMinor-1e-6)*rMinor;v<=o.rd[1]+1e-9;v+=rMinor){
      const Y=P.sr(v);const maj=rTicks.some(t=>Math.abs(t-v)<rMinor*0.01);const L=maj?6:3;
      d+='M'+o.x1+','+Y+'h-'+L;
    }
  }
  mk(g,'path',{d:d,stroke:'#000','stroke-width':0.9,fill:'none'},'axis-ticks');
  yTicks.forEach(t=>{txt(g,o.x0-5,P.sy(t)+5.5,fmt(t,yDig),15.5,'y-tick-label',{'text-anchor':'end'});});
  if(rTicks) rTicks.forEach(t=>{txt(g,o.x1+3,P.sr(t)+3.5,fmt(t,rDig),10,'right-tick-label');});
}
function scatter(P,xs,ys,color,name){
  const n=Math.min(xs.length,ys.length);
  for(let i=0;i<n;i++){
    mk(P.plot,'rect',{x:(P.sx(xs[i])-2.2).toFixed(1),y:(P.sy(ys[i])-2.2).toFixed(1),width:4.4,height:4.4,fill:color},name);
  }
}
function fit(P,xs,ys,name){
  const pts=xs.map((x,i)=>[P.sx(x),P.sy(ys[i])]);
  mk(P.plot,'path',{d:smoothPath(pts),stroke:'#c8c8c8','stroke-width':5,fill:'none','stroke-linecap':'round'},name);
}
function overlay(P,xs,ys,color,w,name){
  const n=Math.min(xs.length,ys.length);let d='';
  for(let i=0;i<n;i++){d+=(i?'L':'M')+P.sx(xs[i]).toFixed(1)+','+P.sr(ys[i]).toFixed(1);}
  mk(P.plot,'path',{d:d,stroke:color,'stroke-width':w,fill:'none','stroke-linejoin':'round'},name);
}
function fillUnder(P,xs,ys,a,b,name){
  let pts=[];for(let i=0;i<xs.length;i++){if(xs[i]>=a&&xs[i]<=b)pts.push([P.sx(xs[i]),P.sr(ys[i])]);}
  if(!pts.length)return;
  let d='M'+pts[0][0]+','+P.sr(0);pts.forEach(p=>d+='L'+p[0]+','+p[1]);d+='L'+pts[pts.length-1][0]+','+P.sr(0)+'Z';
  mk(P.plot,'path',{d:d,fill:'#dcdcdc',stroke:'none'},name);
}
function flareLabel(parent,x,y,val){
  const t=mk(parent,'text',{x:x,y:y,'font-size':6.5,fill:'#444','text-anchor':'middle'},'flare-energy-label');
  const parts=[['E',0],['fl',1],['/L',0],['pk,x',1],['='+val,0]];
  parts.forEach(p=>{const s=document.createElementNS(NS,'tspan');s.textContent=p[0];if(p[1]){s.setAttribute('font-size','4.5');s.setAttribute('dy','1.5');}else{s.setAttribute('dy','0');}
    t.appendChild(s);
    if(p[1]){const r=document.createElementNS(NS,'tspan');r.setAttribute('dy','-1.5');r.textContent='';t.appendChild(r);}
  });
}
function xray(P,cfg){
  const o=P.o;
  mk(P.plot,'line',{x1:o.x0,x2:o.x1,y1:P.sy(0),y2:P.sy(0),stroke:'#bbb','stroke-width':1.5},'zero-line');
  if(cfg.zeroRight) mk(P.plot,'line',{x1:o.x0,x2:o.x1,y1:P.sr(0),y2:P.sr(0),stroke:'#bbb','stroke-width':1.2},'zero-line-right');
  mk(P.plot,'line',{x1:o.x0,x2:o.x1,y1:P.sy(cfg.dot),y2:P.sy(cfg.dot),stroke:'#999','stroke-width':0.9,'stroke-dasharray':'2,2'},'mean-level-line');
  if(cfg.fill) fillUnder(P,cfg.ox,cfg.oy,cfg.fill[0],cfg.fill[1],'flare-fill');
  overlay(P,cfg.ox,cfg.oy,cfg.ocolor,cfg.ow,cfg.oname);
  const bs=cfg.bs,be=cfg.be,bl=cfg.bl;
  for(let i=1;i<bs.length;i++){
    mk(P.plot,'line',{x1:P.sx(bs[i]),x2:P.sx(bs[i]),y1:P.sy(bl[i-1]),y2:P.sy(bl[i]),stroke:'#aaa','stroke-width':1.3},'bin-edge');
  }
  for(let i=0;i<bs.length;i++){
    mk(P.plot,'line',{x1:P.sx(bs[i]),x2:P.sx(be[i]),y1:P.sy(bl[i]),y2:P.sy(bl[i]),stroke:'#000','stroke-width':1.8},'bin-level');
  }
  mk(P.plot,'line',{x1:P.sx(cfg.mag[0]),x2:P.sx(cfg.mag[1]),y1:P.sy(cfg.mag[2]),y2:P.sy(cfg.mag[2]),stroke:'#ff44ff','stroke-width':2},'flare-marker');
  for(let i=0;i<cfg.px.length;i++){
    const X=P.sx(cfg.px[i]);
    mk(P.plot,'line',{x1:X,x2:X,y1:P.sy(cfg.py[i]-cfg.pe[i]),y2:P.sy(cfg.py[i]+cfg.pe[i]),stroke:'#000','stroke-width':1.8},'xray-error-bar');
    mk(P.plot,'circle',{cx:X,cy:P.sy(cfg.py[i]),r:3.3,fill:'#000'},'xray-point');
  }
  flareLabel(P.g,o.x0+(o.x1-o.x0)*cfg.tpos,o.top+7,cfg.tval);
}
function vtext(x,y,s,size,name,rot){
  txt(svg,0,0,s,size,name,{'text-anchor':'middle',transform:'translate('+x+','+y+') rotate('+(rot||-90)+')'});
}
function xLabels(P,labels,dig,ybase,size){
  labels.forEach(v=>txt(svg,P.sx(v),ybase,fmt(v,dig),size,'x-tick-label',{'text-anchor':'middle'}));
}

function group(G){
  const T=G.tops;
  const p1=makePanel({name:'corot-panel-'+G.id,x0:G.x0,x1:G.x1,top:T[0],bottom:T[1],xd:G.xd,yd:G.y1});
  fit(p1,G.c.fx,G.c.fy,'corot-fit-curve');scatter(p1,G.c.x,G.c.y,'#0000ff','corot-flux-point');
  frame(p1,G.xMaj,G.xMin,G.y1t,G.y1m,G.y1d);
  txt(p1.g,G.x0+4,T[0]+13,'# '+G.id,14,'panel-id-label');
  const p2=makePanel({name:'ir-panel-'+G.id,x0:G.x0,x1:G.x1,top:T[1],bottom:T[2],xd:G.xd,yd:G.y2});
  fit(p2,G.i.fx,G.i.fy,'ir-fit-curve');scatter(p2,G.i.x,G.i.y,G.irColor,'ir-flux-point');
  frame(p2,G.xMaj,G.xMin,G.y2t,G.y2m,G.y2d);
  txt(p2.g,G.x0+4,T[1]+13,'# '+G.id,14,'panel-id-label');
  const p3=makePanel({name:'xray-corot-panel-'+G.id,x0:G.x0,x1:G.x1,top:T[2],bottom:T[3],xd:G.xd,yd:G.y3,rd:G.r3});
  xray(p3,Object.assign({},G.xr,{ox:G.dx,oy:G.dy,ocolor:'#0000ff',ow:1.1,oname:'corot-detrended-line',zeroRight:G.zr}));
  frame(p3,G.xMaj,G.xMin,G.yxt,G.yxm,G.yxd,G.r3t,G.r3m,G.r3d);
  const p4=makePanel({name:'xray-ir-panel-'+G.id,x0:G.x0,x1:G.x1,top:T[3],bottom:T[4],xd:G.xd,yd:G.y4,rd:G.r4});
  xray(p4,Object.assign({},G.xr,{ox:G.rx,oy:G.ry,ocolor:G.irColor,ow:1.5,oname:'ir-residual-line',fill:G.fillRange,zeroRight:G.zr}));
  frame(p4,G.xMaj,G.xMin,G.yxt,G.yxm,G.yxd,G.r4t,G.r4m,G.r4d);
  const lx=G.x0-38;
  vtext(lx,(T[0]+T[1])/2,'CoRoT flux [norm.]',16,'y-axis-title-corot');
  vtext(lx,(T[1]+T[2])/2,G.irTitle,16,'y-axis-title-ir');
  vtext(lx,(T[2]+T[3])/2,G.xTitle,14,'y-axis-title-xray');
  vtext(lx,(T[3]+T[4])/2,G.xTitle,14,'y-axis-title-xray');
  vtext(G.x1+37,(T[2]+T[3])/2,'CoRoT flux [norm. - detrended]',10.5,'right-axis-title-corot');
  vtext(G.x1+37,(T[3]+T[4])/2,G.irTitle,10.5,'right-axis-title-ir');
  xLabels(p4,G.xl,1,T[4]+20,15);
  txt(svg,(G.x0+G.x1)/2,T[4]+36,'MJD - 55898.1',16,'x-axis-title',{'text-anchor':'middle'});
}
const cntsMs='[0.5-8.0keV] Cnts/Ms/cm\u207B\u00B2';
group({id:'468',x0:55,x1:352,tops:[3.5,152.5,302,451,600],xd:[0.003,0.874],xMaj:0.1,xMin:0.02,xl:g1XLabels,
  y1:[0.861,1.040],y1t:[0.90,0.95,1.00],y1m:0.01,y1d:2,
  y2:[21.304,22.154],y2t:[21.4,21.6,21.8,22.0],y2m:0.05,y2d:1,
  y3:[-3.0,31.9],y4:[-3.05,31.9],yxt:[0,5,10,15,20,25,30],yxm:1,yxd:0,
  r3:[-0.0028,0.0295],r3t:[0,0.005,0.010,0.015,0.020,0.025],r3m:0.001,r3d:3,
  r4:[-0.0164,0.171],r4t:[0,0.05,0.10,0.15],r4m:0.01,r4d:2,
  c:{x:g1CorotX,y:g1CorotY,fx:g1CorotFitX,fy:g1CorotFitY},
  i:{x:g1IrX,y:g1IrY,fx:g1IrFitX,fy:g1IrFitY},irColor:'#ff0000',irTitle:'4.5\u00B5m [mJy]',
  dx:g1DetX,dy:g1DetY,rx:g1ResX,ry:g1ResY,xTitle:cntsMs,
  xr:{px:g1XrayX,py:g1XrayY,pe:g1XrayErr,bs:g1BinStart,be:g1BinEnd,bl:g1BinLevel,dot:13.8,mag:[0.452,0.583,29.6],tpos:0.37,tval:'0.284/0.025'}});
group({id:'492',x0:460,x1:757,tops:[6,154,303,452,600],xd:[-0.312,1.272],xMaj:0.2,xMin:0.04,xl:g2XLabels,
  y1:[0.88,1.078],y1t:[0.90,0.95,1.00,1.05],y1m:0.01,y1d:2,
  y2:[46.533,47.048],y2t:[46.6,46.7,46.8,46.9,47.0],y2m:0.02,y2d:1,
  y3:[-0.012,0.136],y4:[-0.0116,0.1356],yxt:[0,0.02,0.04,0.06,0.08,0.10,0.12],yxm:0.005,yxd:2,
  r3:[-0.00174,0.01975],r3t:[0,0.005,0.010,0.015],r3m:0.001,r3d:3,
  r4:[-0.0285,0.3316],r4t:[0,0.1,0.2,0.3],r4m:0.02,r4d:1,
  c:{x:g2CorotX,y:g2CorotY,fx:g2CorotFitX,fy:g2CorotFitY},
  i:{x:g2IrX,y:g2IrY,fx:g2IrFitX,fy:g2IrFitY},irColor:'#ff8000',irTitle:'3.6\u00B5m [mJy]',
  dx:g2DetX,dy:g2DetY,rx:g2ResX,ry:g2ResY,xTitle:'[0.5-8.0keV] Cnts/Ks/cm\u207B\u00B2',
  xr:{px:g2XrayX,py:g2XrayY,pe:g2XrayErr,bs:g2BinStart,be:g2BinEnd,bl:g2BinLevel,dot:0.030,mag:[0.196,0.879,0.126],tpos:0.39,tval:'5.377/0.231'}});
group({id:'541',x0:864,x1:1162,tops:[5,152,302,451,600],xd:[2.0,3.55],xMaj:0.1,xMin:0.02,xl:g3XLabels,
  y1:[0.9791,1.0314],y1t:[0.98,0.99,1.00,1.01,1.02,1.03],y1m:0.002,y1d:2,
  y2:[3.812,4.576],y2t:[4.0,4.2,4.4],y2m:0.05,y2d:1,
  y3:[-3.07,35.0],y4:[-3.16,35.1],yxt:[0,10,20,30],yxm:2,yxd:0,
  r3:[-0.0008,0.00908],r3t:[0,0.002,0.004,0.006,0.008],r3m:0.0005,r3d:3,
  r4:[-0.0083,0.0921],r4t:[0,0.02,0.04,0.06,0.08],r4m:0.005,r4d:2,
  c:{x:g3CorotX,y:g3CorotY,fx:g3CorotFitX,fy:g3CorotFitY},
  i:{x:g3IrX,y:g3IrY,fx:g3IrFitX,fy:g3IrFitY},irColor:'#ff8000',irTitle:'3.6\u00B5m [mJy]',
  dx:g3DetX,dy:g3DetY,rx:g3ResX,ry:g3ResY,xTitle:cntsMs,fillRange:[2.916,3.034],
  xr:{px:g3XrayX,py:g3XrayY,pe:g3XrayErr,bs:g3BinStart,be:g3BinEnd,bl:g3BinLevel,dot:4.1,mag:[2.92,3.13,32.6],tpos:0.25,tval:'0.595/0.067'}});
group({id:'572',x0:460,x1:757,tops:[655,803.3,953,1103,1251],xd:[1.617,3.512],xMaj:0.2,xMin:0.04,xl:g4XLabels,zr:true,
  y1:[0.9516,1.020],y1t:[0.96,0.97,0.98,0.99,1.00,1.01,1.02],y1m:0.002,y1d:2,
  y2:[4.4457,4.4816],y2t:[4.45,4.46,4.47,4.48],y2m:0.002,y2d:2,
  y3:[-3.18,39.0],y4:[-2.88,38.5],yxt:[0,10,20,30],yxm:2,yxd:0,
  r3:[-0.00135,0.01185],r3t:[0,0.002,0.004,0.006,0.008,0.010],r3m:0.0005,r3d:3,
  r4:[-0.00199,0.0195],r4t:[0,0.005,0.010,0.015,0.020],r4m:0.001,r4d:3,
  c:{x:g4CorotX,y:g4CorotY,fx:g4CorotFitX,fy:g4CorotFitY},
  i:{x:g4IrX,y:g4IrY,fx:g4IrFitX,fy:g4IrFitY},irColor:'#ff8000',irTitle:'3.6\u00B5m [mJy]',
  dx:g4DetX,dy:g4DetY,rx:g4ResX,ry:g4ResY,xTitle:cntsMs,
  xr:{px:g4XrayX,py:g4XrayY,pe:g4XrayErr,bs:g4BinStart,be:g4BinEnd,bl:g4BinLevel,dot:13.8,mag:[2.304,2.394,36.5],tpos:0.27,tval:'0.213/0.026'}});
</script>
</body></html>
